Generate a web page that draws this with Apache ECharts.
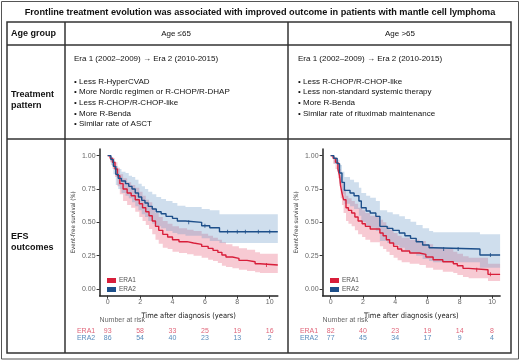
<!DOCTYPE html>
<html>
<head>
<meta charset="utf-8">
<script src="https://cdn.jsdelivr.net/npm/echarts@6.0.0/dist/echarts.min.js"></script>
<style>
html, body { margin: 0; padding: 0; background: #fff; }
#chart { width: 520px; height: 362px; }
</style>
</head>
<body>
<div id="chart"></div>
<script>
// ---- data ----
var xTicks = [0, 2, 4, 6, 8, 10];
var yTicks = [0, 0.25, 0.5, 0.75, 1];
var riskTimes = [0, 2, 4, 6, 8, 10];

// Age <=65, Era 1
var youngEra1Time  = [0, 0.15, 0.3, 0.45, 0.6, 0.75, 0.95, 1.2, 1.45, 1.7, 1.95, 2.15, 2.35, 2.55, 2.75, 2.95, 3.15, 3.4, 3.7, 4.0, 4.4, 4.9, 5.3, 5.8, 6.2, 6.5, 6.8, 7.05, 7.3, 7.7, 8.1, 8.6, 9.1, 9.4, 10.5];
var youngEra1Surv  = [1, 0.98, 0.95, 0.90, 0.85, 0.79, 0.75, 0.72, 0.70, 0.67, 0.64, 0.61, 0.58, 0.55, 0.51, 0.47, 0.44, 0.41, 0.39, 0.37, 0.355, 0.345, 0.335, 0.32, 0.305, 0.29, 0.275, 0.255, 0.24, 0.23, 0.215, 0.205, 0.19, 0.18, 0.18];
var youngEra1Lower = [1, 0.95, 0.90, 0.84, 0.77, 0.71, 0.66, 0.63, 0.61, 0.58, 0.54, 0.51, 0.48, 0.45, 0.41, 0.37, 0.34, 0.31, 0.30, 0.28, 0.27, 0.26, 0.25, 0.235, 0.22, 0.21, 0.195, 0.175, 0.165, 0.155, 0.145, 0.135, 0.125, 0.12, 0.12];
var youngEra1Upper = [1, 0.99, 0.98, 0.95, 0.91, 0.86, 0.83, 0.80, 0.78, 0.76, 0.73, 0.70, 0.67, 0.65, 0.61, 0.57, 0.54, 0.51, 0.49, 0.47, 0.455, 0.445, 0.435, 0.415, 0.40, 0.385, 0.37, 0.35, 0.335, 0.32, 0.305, 0.295, 0.275, 0.265, 0.265];

// Age <=65, Era 2
var youngEra2Time  = [0, 0.2, 0.35, 0.5, 0.65, 0.85, 1.1, 1.3, 1.5, 1.7, 1.9, 2.1, 2.3, 2.5, 2.75, 3.0, 3.3, 3.6, 4.0, 4.3, 4.8, 5.8, 6.3, 6.9, 10.5];
var youngEra2Surv  = [1, 0.97, 0.92, 0.86, 0.83, 0.81, 0.79, 0.77, 0.75, 0.72, 0.69, 0.665, 0.645, 0.62, 0.60, 0.58, 0.565, 0.545, 0.53, 0.51, 0.50, 0.475, 0.46, 0.43, 0.43];
var youngEra2Lower = [1, 0.93, 0.86, 0.78, 0.75, 0.72, 0.70, 0.68, 0.65, 0.62, 0.59, 0.56, 0.54, 0.51, 0.49, 0.47, 0.455, 0.435, 0.42, 0.41, 0.40, 0.38, 0.36, 0.345, 0.33];
var youngEra2Upper = [1, 0.99, 0.96, 0.92, 0.90, 0.88, 0.87, 0.85, 0.84, 0.82, 0.79, 0.77, 0.75, 0.73, 0.71, 0.69, 0.675, 0.66, 0.645, 0.625, 0.615, 0.60, 0.59, 0.56, 0.56];
var youngEra2Censor = [[5.0, 0.50], [6.0, 0.475], [7.4, 0.43], [8.0, 0.43], [8.5, 0.43], [9.3, 0.43], [10.0, 0.43]];
var youngEra1Censor = [[9.8, 0.18]];

// Age >65, Era 1
var oldEra1Time  = [0, 0.15, 0.3, 0.45, 0.55, 0.62, 0.7, 0.8, 0.95, 1.1, 1.3, 1.5, 1.7, 1.95, 2.15, 2.45, 3.05, 3.25, 3.45, 3.65, 3.9, 4.15, 4.4, 4.9, 5.5, 5.9, 6.35, 6.95, 7.6, 7.85, 8.2, 8.55, 9.75, 10.5];
var oldEra1Surv  = [1, 0.98, 0.95, 0.90, 0.85, 0.77, 0.72, 0.67, 0.61, 0.59, 0.57, 0.54, 0.51, 0.49, 0.47, 0.45, 0.42, 0.40, 0.37, 0.345, 0.32, 0.30, 0.285, 0.27, 0.26, 0.24, 0.22, 0.205, 0.19, 0.175, 0.155, 0.145, 0.11, 0.11];
var oldEra1Lower = [1, 0.94, 0.90, 0.83, 0.77, 0.68, 0.63, 0.57, 0.51, 0.49, 0.47, 0.44, 0.41, 0.39, 0.37, 0.35, 0.32, 0.30, 0.28, 0.255, 0.235, 0.215, 0.20, 0.19, 0.18, 0.16, 0.145, 0.13, 0.12, 0.105, 0.09, 0.08, 0.06, 0.06];
var oldEra1Upper = [1, 0.99, 0.98, 0.94, 0.90, 0.84, 0.80, 0.75, 0.70, 0.68, 0.66, 0.64, 0.61, 0.59, 0.57, 0.55, 0.52, 0.50, 0.47, 0.445, 0.42, 0.40, 0.385, 0.37, 0.36, 0.335, 0.315, 0.30, 0.28, 0.265, 0.245, 0.235, 0.19, 0.19];
var oldEra1Censor = [[9.05, 0.145], [9.9, 0.11]];

// Age >65, Era 2
var oldEra2Time  = [0, 0.2, 0.4, 0.55, 0.7, 0.85, 1.2, 1.45, 1.75, 1.9, 2.2, 2.45, 2.8, 3.05, 3.5, 3.85, 4.25, 4.6, 4.95, 5.3, 5.7, 6.1, 6.35, 9.25, 10.5];
var oldEra2Surv  = [1, 0.98, 0.94, 0.87, 0.80, 0.74, 0.72, 0.70, 0.66, 0.61, 0.585, 0.57, 0.545, 0.47, 0.455, 0.44, 0.42, 0.40, 0.38, 0.355, 0.33, 0.31, 0.30, 0.255, 0.255];
var oldEra2Lower = [1, 0.94, 0.88, 0.79, 0.71, 0.64, 0.62, 0.60, 0.55, 0.50, 0.475, 0.46, 0.435, 0.36, 0.345, 0.33, 0.31, 0.29, 0.27, 0.25, 0.225, 0.21, 0.20, 0.16, 0.16];
var oldEra2Upper = [1, 0.99, 0.97, 0.93, 0.88, 0.84, 0.82, 0.80, 0.76, 0.72, 0.70, 0.685, 0.66, 0.59, 0.575, 0.56, 0.545, 0.525, 0.505, 0.48, 0.455, 0.435, 0.425, 0.41, 0.41];
var oldEra2Censor = [[7.0, 0.30], [7.9, 0.30], [9.9, 0.255]];

// numbers at risk
var youngRiskEra1 = [93, 58, 33, 25, 19, 16];
var youngRiskEra2 = [86, 54, 40, 23, 13, 2];
var oldRiskEra1 = [82, 40, 23, 19, 14, 8];
var oldRiskEra2 = [77, 45, 34, 17, 9, 4];

// table text
var titleText = 'Frontline treatment evolution was associated with improved outcome in patients with mantle cell lymphoma';
var eraText = 'Era 1 (2002\u20132009) \u2192 Era 2 (2010-2015)';
var youngBullets = ['Less R-HyperCVAD', 'More Nordic regimen or R-CHOP/R-DHAP', 'Less R-CHOP/R-CHOP-like', 'More R-Benda', 'Similar rate of ASCT'];
var oldBullets = ['Less R-CHOP/R-CHOP-like', 'Less non-standard systemic therapy', 'More R-Benda', 'Similar rate of rituximab maintenance'];

// ---- styles ----
var red = '#d81e3a';
var blue = '#1d4f8a';
var redBand = 'rgba(228, 80, 108, 0.30)';
var blueBand = 'rgba(110, 155, 200, 0.33)';
var redText = '#e0667a';
var blueText = '#5a8cbc';
var sans = '"Liberation Sans", Arial, sans-serif';
var narrow = '"Liberation Sans Narrow", "DejaVu Sans Condensed", "Liberation Sans", sans-serif';

function pairs(t, v) {
  return t.map(function (x, i) { return [x, v[i]]; });
}

// confidence band as one stepped polygon (upper edge forward, lower edge back)
function bandSeries(g, t, lo, up, color) {
  return {
    type: 'custom', xAxisIndex: g, yAxisIndex: g, silent: true, z: 1,
    data: t.map(function (x, i) { return [x, lo[i], up[i]]; }),
    encode: { x: 0, y: [1, 2] },
    renderItem: function (params, api) {
      if (params.dataIndex !== 0) return null;
      var pts = [];
      var n = t.length;
      for (var i = 0; i < n; i++) {
        pts.push(api.coord([t[i], up[i]]));
        if (i < n - 1) pts.push(api.coord([t[i + 1], up[i]]));
      }
      for (var j = n - 1; j >= 0; j--) {
        if (j < n - 1) pts.push(api.coord([t[j + 1], lo[j]]));
        pts.push(api.coord([t[j], lo[j]]));
      }
      return { type: 'polygon', shape: { points: pts }, style: { fill: color } };
    }
  };
}

function curve(name, g, t, s, color) {
  return { type: 'line', name: name, xAxisIndex: g, yAxisIndex: g, step: 'end', symbol: 'none',
    lineStyle: { color: color, width: 1.4 }, itemStyle: { color: color }, data: pairs(t, s), z: 3 };
}

function censor(name, g, pts, color) {
  return { type: 'scatter', name: name, xAxisIndex: g, yAxisIndex: g, symbol: 'rect', symbolSize: [1, 4],
    itemStyle: { color: color }, data: pts, z: 4, silent: true };
}

function xAxisFor(g) {
  return {
    type: 'value', gridIndex: g, min: -0.5, max: 10.5,
    name: 'Time after diagnosis (years)', nameLocation: 'middle', nameGap: 16,
    nameTextStyle: { fontFamily: narrow, fontSize: 7.5, color: '#222' },
    axisLine: { show: true, onZero: false, lineStyle: { color: '#222', width: 1.5 } },
    axisTick: { show: true, length: 3, customValues: xTicks, lineStyle: { color: '#333' } },
    axisLabel: { customValues: xTicks, fontFamily: sans, fontSize: 7, color: '#666', margin: 3 },
    splitLine: { show: false }
  };
}

function yAxisFor(g) {
  return {
    type: 'value', gridIndex: g, min: -0.05, max: 1.05,
    name: 'Event-free survival (%)', nameLocation: 'middle', nameGap: 23, nameRotate: 90,
    nameTextStyle: { fontFamily: narrow, fontSize: 6, color: '#333' },
    axisLine: { show: true, onZero: false, lineStyle: { color: '#222', width: 1.5 } },
    axisTick: { show: true, length: 3, customValues: yTicks, lineStyle: { color: '#333' } },
    axisLabel: { customValues: yTicks, fontFamily: sans, fontSize: 7, color: '#666', margin: 4,
      formatter: function (v) { return v.toFixed(2); } },
    splitLine: { show: false }
  };
}

function legendFor(left) {
  return {
    data: ['ERA1', 'ERA2'], left: left, top: 272, orient: 'vertical', itemGap: 2,
    icon: 'rect', itemWidth: 9, itemHeight: 5, selectedMode: false,
    textStyle: { fontFamily: sans, fontSize: 6.5, color: '#555', padding: [0, 0, 0, -2] }
  };
}

var chart = echarts.init(document.getElementById('chart'), null, { renderer: 'canvas' });

var series = [
  bandSeries(0, youngEra1Time, youngEra1Lower, youngEra1Upper, redBand),
  bandSeries(0, youngEra2Time, youngEra2Lower, youngEra2Upper, blueBand),
  bandSeries(1, oldEra1Time, oldEra1Lower, oldEra1Upper, redBand),
  bandSeries(1, oldEra2Time, oldEra2Lower, oldEra2Upper, blueBand),
  curve('ERA1', 0, youngEra1Time, youngEra1Surv, red),
  curve('ERA2', 0, youngEra2Time, youngEra2Surv, blue),
  curve('ERA1', 1, oldEra1Time, oldEra1Surv, red),
  curve('ERA2', 1, oldEra2Time, oldEra2Surv, blue),
  censor('c1', 0, youngEra1Censor, red),
  censor('c2', 0, youngEra2Censor, blue),
  censor('c3', 1, oldEra1Censor, red),
  censor('c4', 1, oldEra2Censor, blue)
];

chart.setOption({
  animation: false,
  backgroundColor: '#fff',
  grid: [
    { left: 99.6, right: 242.2, top: 149, bottom: 66.3 },
    { left: 322.6, right: 19.9, top: 149, bottom: 66.3 }
  ],
  xAxis: [xAxisFor(0), xAxisFor(1)],
  yAxis: [yAxisFor(0), yAxisFor(1)],
  legend: [legendFor(102), legendFor(325)],
  series: series
});

// ---- table frame, texts and risk table ----
var gfx = [];
function line(x1, y1, x2, y2, w, c) {
  gfx.push({ type: 'line', shape: { x1: x1, y1: y1, x2: x2, y2: y2 }, style: { stroke: c || '#333', lineWidth: w || 1.5 }, silent: true });
}
function text(str, x, y, opt) {
  opt = opt || {};
  gfx.push({ type: 'text', silent: true, style: {
    text: str, x: x, y: y, fill: opt.color || '#111',
    font: (opt.bold ? 'bold ' : '') + (opt.size || 8) + 'px ' + (opt.family || sans),
    align: opt.align || 'left', verticalAlign: 'middle',
    textAlign: opt.align || 'left', textVerticalAlign: 'middle'
  } });
}

gfx.push({ type: 'rect', shape: { x: 1.5, y: 1.5, width: 517, height: 357.5 }, style: { fill: 'none', stroke: '#555', lineWidth: 1 }, silent: true });
gfx.push({ type: 'rect', shape: { x: 7, y: 22, width: 504, height: 331 }, style: { fill: 'none', stroke: '#333', lineWidth: 1.5 }, silent: true });
line(65, 22, 65, 353);
line(288, 22, 288, 353);
line(7, 45, 511, 45);
line(7, 139, 511, 139);

text(titleText, 260, 12, { bold: true, size: 9.2, align: 'center' });
text('Age group', 11, 33.5, { bold: true, size: 9 });
text('Age \u226465', 176, 33.5, { size: 8, align: 'center' });
text('Age >65', 400, 33.5, { size: 8, align: 'center' });
text('Treatment', 11, 95, { bold: true, size: 9 });
text('pattern', 11, 106, { bold: true, size: 9 });
text('EFS', 11, 237, { bold: true, size: 9 });
text('outcomes', 11, 248, { bold: true, size: 9 });

var bulletY = [81.3, 92, 102.7, 113.3, 124];
text(eraText, 74, 58.5, { size: 8 });
text(eraText, 298, 58.5, { size: 8 });
youngBullets.forEach(function (b, i) { text('\u2022 ' + b, 74, bulletY[i], { size: 8 }); });
oldBullets.forEach(function (b, i) { text('\u2022 ' + b, 298, bulletY[i], { size: 8 }); });

function riskTable(g, era1, era2) {
  var x0 = chart.convertToPixel({ gridIndex: g }, [0, 0])[0];
  var xl = chart.convertToPixel({ gridIndex: g }, [-0.5, 0])[0];
  text('Number at risk', xl, 320, { size: 7, color: '#666' });
  text('ERA1', x0 - 12.5, 331, { size: 7, color: redText, align: 'right' });
  text('ERA2', x0 - 12.5, 338, { size: 7, color: blueText, align: 'right' });
  riskTimes.forEach(function (t, i) {
    var px = chart.convertToPixel({ gridIndex: g }, [t, 0])[0];
    text(String(era1[i]), px, 331, { size: 7, color: redText, align: 'center' });
    text(String(era2[i]), px, 338, { size: 7, color: blueText, align: 'center' });
  });
}
riskTable(0, youngRiskEra1, youngRiskEra2);
riskTable(1, oldRiskEra1, oldRiskEra2);

chart.setOption({ graphic: { elements: gfx } });
</script>
</body>
</html>
